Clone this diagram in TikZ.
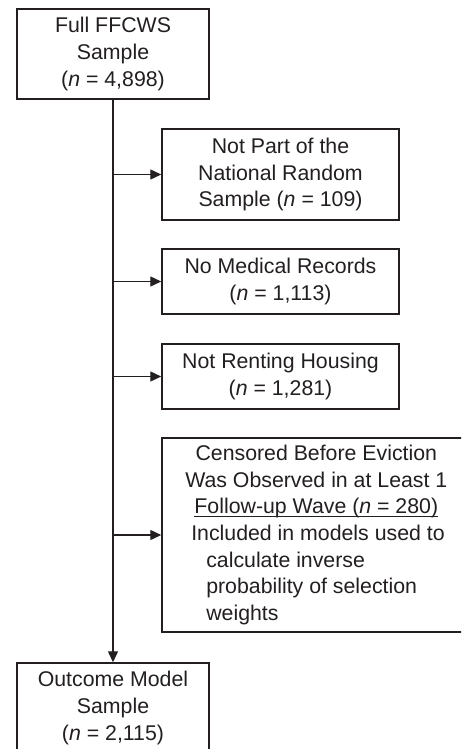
\documentclass[tikz,border=0pt]{standalone}
\usepackage{fontspec}
\setmainfont{Liberation Sans}
\usetikzlibrary{arrows.meta}
\definecolor{ink}{HTML}{231F20}
\newcommand\myul[1]{\leavevmode\setbox0\hbox{#1}\rlap{\rule[-3pt]{\wd0}{1.1pt}}\box0}
\tikzset{
  box/.style={draw=ink, line width=1.5pt, inner sep=0pt, align=center, text=ink,
    font=\fontsize{21.3}{26.7}\selectfont},
  conn/.style={draw=ink, line width=1.4pt, -{Triangle[length=11pt,width=10pt]}}
}
\begin{document}
\begin{tikzpicture}[x=1pt,y=-1pt]
\clip (0,0) rectangle (461,749);
\fill[white] (0,0) rectangle (461,749);
\node[box, minimum width=192pt, minimum height=90pt] (full) at (113,54)
  {Full FFCWS\\Sample\\(\textit{n} = 4,898)};
\node[box, minimum width=237pt, minimum height=91pt] (nat) at (280.5,174.5)
  {Not Part of the\\National Random\\Sample (\textit{n} = 109)};
\node[box, minimum width=237pt, minimum height=65pt] (med) at (280.5,281.5)
  {No Medical Records\\(\textit{n} = 1,113)};
\node[box, minimum width=237pt, minimum height=65pt] (rent) at (280.5,376.5)
  {Not Renting Housing\\(\textit{n} = 1,281)};
\node[box, minimum width=312pt, minimum height=194pt, align=left] (cens) at (318,535)
  {\makebox[250pt][c]{Censored Before Eviction}\\
   \makebox[250pt][c]{Was Observed in at Least 1}\\
   \makebox[250pt][c]{\myul{Follow-up Wave (\textit{n} = 280)}}\\
   Included in models used to\\
   \hspace*{15pt}calculate inverse\\
   \hspace*{15pt}probability of selection\\
   \hspace*{15pt}weights};
\node[box, minimum width=192pt, minimum height=90pt] (out) at (113,708)
  {Outcome Model\\Sample\\(\textit{n} = 2,115)};
\draw[conn] (full.south) -- (out.north);
\draw[conn] (full.south |- nat.west) -- (nat.west);
\draw[conn] (full.south |- med.west) -- (med.west);
\draw[conn] (full.south |- rent.west) -- (rent.west);
\draw[conn] (full.south |- cens.west) -- (cens.west);
\end{tikzpicture}
\end{document}
